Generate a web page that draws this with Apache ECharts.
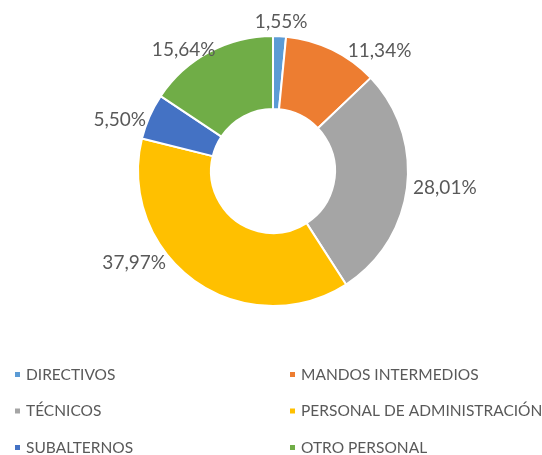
<!DOCTYPE html>
<html>
<head>
<meta charset="utf-8">
<script src="https://cdn.jsdelivr.net/npm/echarts@6/dist/echarts.min.js"></script>
<style>
  html, body { margin: 0; padding: 0; background: #fff; }
  #chart { width: 542px; height: 455px; }
</style>
</head>
<body>
<div id="chart"></div>
<script>
// categories and shares (%), clockwise from 12 o'clock
const categories = ['DIRECTIVOS', 'MANDOS INTERMEDIOS', 'TÉCNICOS', 'PERSONAL DE ADMINISTRACIÓN', 'SUBALTERNOS', 'OTRO PERSONAL'];
const shares = [1.55, 11.34, 28.01, 37.97, 5.50, 15.64];
const colors = ['#5B9BD5', '#ED7D31', '#A5A5A5', '#FFC000', '#4472C4', '#70AD47'];

// legend is laid out in two columns
const leftLegend = [categories[0], categories[2], categories[4]];
const rightLegend = [categories[1], categories[3], categories[5]];

const chart = echarts.init(document.getElementById('chart'));

const legendBase = {
  orient: 'vertical',
  top: 366.5,
  height: 100,
  padding: 0,
  itemWidth: 7,
  itemHeight: 7,
  itemGap: 20.5,
  icon: 'rect',
  selectedMode: false,
  textStyle: { color: '#595959', fontSize: 15.5, fontFamily: 'Lato', lineHeight: 16 }
};

// small label nudges so the labels sit roughly where Excel put them
const nudge = { 0: [-30, -8], 3: [-20, -23], 4: [7, 6], 5: [14, 3] };

chart.setOption({
  animation: false,
  color: colors,
  legend: [
    Object.assign({ left: 13, data: leftLegend }, legendBase),
    Object.assign({ left: 288, data: rightLegend }, legendBase)
  ],
  series: [{
    type: 'pie',
    center: [273, 171],
    radius: [62, 135],
    startAngle: 90,
    clockwise: true,
    itemStyle: { borderColor: '#fff', borderWidth: 2 },
    label: {
      show: true,
      position: 'outside',
      color: '#595959',
      fontSize: 19,
      fontFamily: 'Lato',
      formatter: p => p.value.toFixed(2).replace('.', ',') + '%'
    },
    labelLine: { show: false, length: 6, length2: 0 },
    labelLayout: p => {
      const n = nudge[p.dataIndex];
      return n ? { dx: n[0], dy: n[1] } : {};
    },
    data: categories.map((c, i) => ({ name: c, value: shares[i] }))
  }]
});
</script>
</body>
</html>
